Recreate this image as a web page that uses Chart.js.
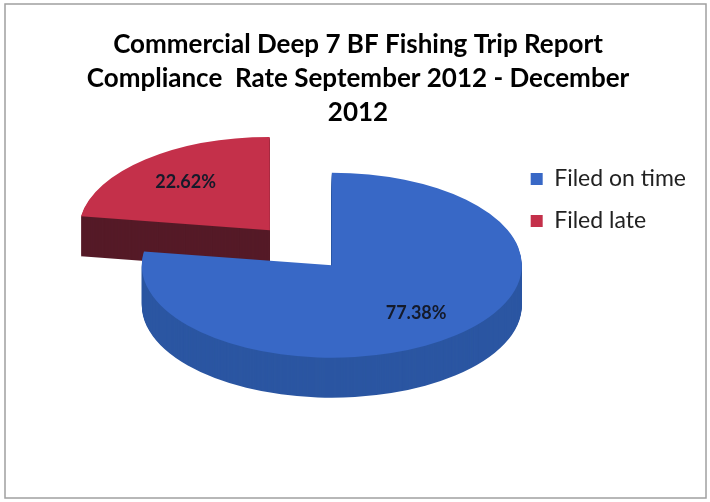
<!DOCTYPE html>
<html>
<head>
<meta charset="utf-8">
<script src="https://cdn.jsdelivr.net/npm/chart.js@4.4.1/dist/chart.umd.min.js"></script>
<style>
  html, body { margin: 0; padding: 0; background: #fff; }
</style>
</head>
<body>
<canvas id="pie" width="710" height="502"></canvas>
<script>
var labels = ['Filed on time', 'Filed late'];
var shares = [77.38, 22.62];
var topColors = ['#3868c6', '#c4304a'];
var sideColors = ['#2b56a2', '#551a27'];
var titleLines = [
	'Commercial Deep 7 BF Fishing Trip Report',
	'Compliance  Rate September 2012 - December',
	'2012'
];

// fake 3d: flatten the pie and stack a darker copy underneath
var squash = 0.487;
var depth = 40;

function squashAround(ctx, cx, cy) {
	ctx.translate(cx, cy);
	ctx.scale(1, squash);
	ctx.translate(-cx, -cy);
}

// empty box on the left so the pie sits left of centre while the title stays centred.
// display:false keeps it out of the legend's width budget
var spacer = {
	id: 'spacer',
	beforeInit: function(chart) {
		Chart.layouts.addBox(chart, {
			position: 'left',
			weight: 10,
			fullSize: false,
			options: {display: false},
			update: function(maxWidth, maxHeight) {
				this.width = 132;
				this.height = maxHeight;
			},
			isHorizontal: function() { return false; },
			draw: function() {}
		});
	}
};

var tilt = {
	id: 'tilt',
	beforeDraw: function(chart) {
		var ctx = chart.ctx;
		ctx.save();
		ctx.fillStyle = '#fff';
		ctx.fillRect(0, 0, chart.width, chart.height);
		ctx.strokeStyle = '#a0a0a0';
		ctx.lineWidth = 1.5;
		ctx.strokeRect(5, 4, 701, 494);
		ctx.restore();
	},
	beforeDatasetsDraw: function(chart) {
		var ctx = chart.ctx;
		var arcs = chart.getDatasetMeta(0).data;
		var cx = arcs[0].x, cy = arcs[0].y;
		for (var d = depth; d > 0; d--) {
			ctx.save();
			ctx.translate(0, d);
			squashAround(ctx, cx, cy);
			arcs.forEach(function(arc, i) {
				var opts = arc.options;
				arc.options = Object.assign({}, opts, {backgroundColor: sideColors[i]});
				arc.draw(ctx);
				arc.options = opts;
			});
			ctx.restore();
		}
		ctx.save();
		squashAround(ctx, cx, cy);
	},
	afterDatasetsDraw: function(chart) {
		var ctx = chart.ctx;
		ctx.restore();
		var arcs = chart.getDatasetMeta(0).data;
		ctx.save();
		ctx.font = 'bold 18px Lato';
		ctx.fillStyle = '#141a2a';
		ctx.textAlign = 'center';
		ctx.textBaseline = 'middle';
		arcs.forEach(function(arc, i) {
			var mid = (arc.startAngle + arc.endAngle) / 2;
			var shift = (arc.options.offset || 0) / 4;
			var r = arc.outerRadius * 0.68 + shift;
			var px = arc.x + Math.cos(mid) * r;
			var py = arc.y + Math.sin(mid) * r * squash;
			ctx.fillText(shares[i].toFixed(2) + '%', px, py);
		});
		ctx.restore();
	}
};

var myPie = new Chart(document.getElementById('pie'), {
	type: 'pie',
	data: {
		labels: labels,
		datasets: [{
			data: shares,
			backgroundColor: topColors,
			borderWidth: 0,
			offset: [0, 380],
			hoverOffset: 0,
			radius: 190,
			cutout: '0%',
			clip: false
		}]
	},
	options: {
		responsive: false,
		animation: false,
		events: [],
		layout: {
			padding: {left: 20, right: 14, top: 0, bottom: 120}
		},
		plugins: {
			title: {
				display: true,
				text: titleLines,
				color: '#000',
				font: {family: 'Lato', size: 26, weight: 'bold', lineHeight: 1.3},
				padding: {top: 28, bottom: 19}
			},
			legend: {
				position: 'right',
				align: 'start',
				fullSize: false,
				labels: {
					boxWidth: 12,
					boxHeight: 12,
					padding: 19,
					color: '#222',
					font: {family: 'Lato', size: 23}
				}
			},
			tooltip: {enabled: false}
		}
	},
	plugins: [spacer, tilt]
});
</script>
</body>
</html>
